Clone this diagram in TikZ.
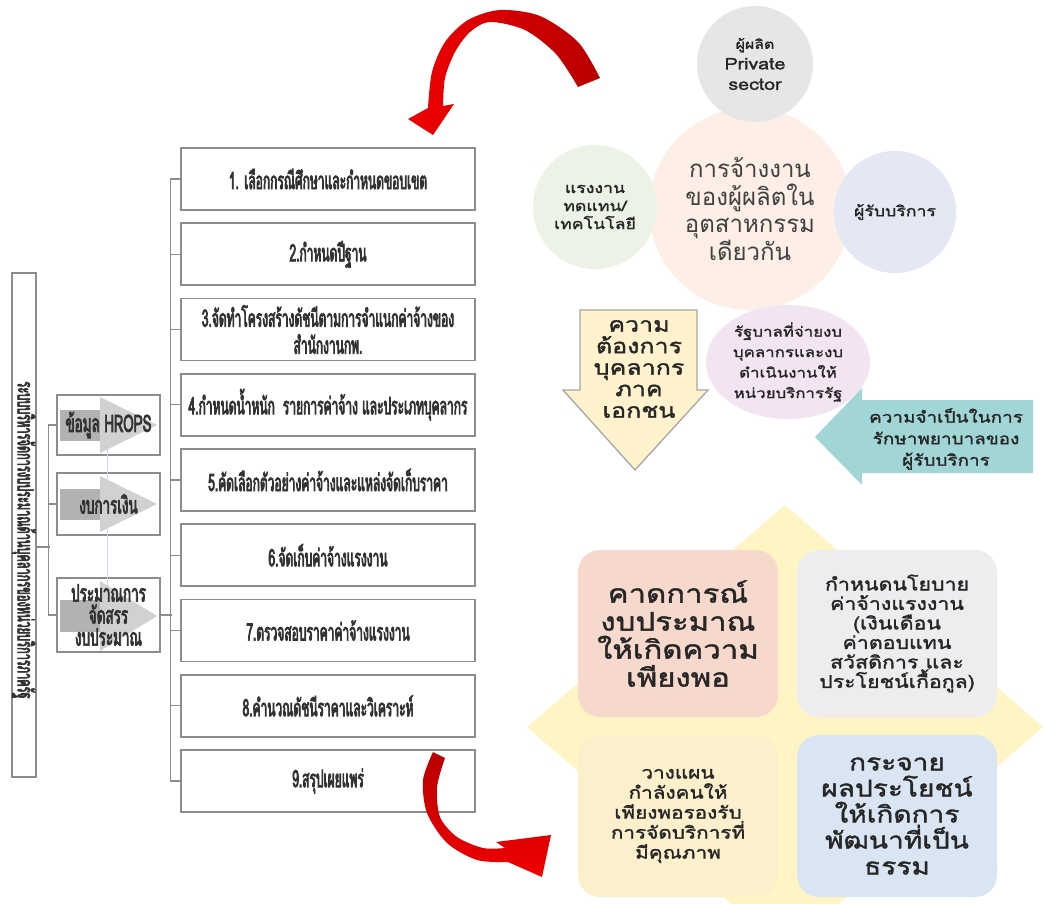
\documentclass[tikz,border=0pt]{standalone}
\usepackage{fontspec}
\setmainfont[Script=Thai]{Loma}
\newfontfamily\thaiR[Script=Thai]{Loma}
\newfontfamily\thaiW[Script=Thai,FakeStretch=1.22,FakeBold=1.6]{Loma}
\newfontfamily\thaiC[Script=Thai,FakeStretch=0.5,FakeBold=3]{Loma}
\newfontfamily\thaiD[Script=Thai,FakeStretch=0.56,FakeBold=3]{Loma}
\usetikzlibrary{shapes.geometric,calc}
\definecolor{txt}{HTML}{333333}
\definecolor{cCenter}{HTML}{FDEFE6}
\definecolor{cTop}{HTML}{E6E6E6}
\definecolor{cLeft}{HTML}{EDF2E6}
\definecolor{cRight}{HTML}{E4E8F4}
\definecolor{cBottom}{HTML}{F2E4F1}
\definecolor{cDown}{HTML}{FFF2CC}
\definecolor{cTeal}{HTML}{A2D5D5}
\definecolor{cDiamond}{HTML}{FFF5C4}
\definecolor{cTL}{HTML}{F6D9CC}
\definecolor{cTR}{HTML}{EDEDEF}
\definecolor{cBL}{HTML}{FCEFCB}
\definecolor{cBR}{HTML}{D9E5F2}
\definecolor{redA}{HTML}{F00000}
\definecolor{redB}{HTML}{B80000}
\begin{document}
\begin{tikzpicture}[x=1pt,y=-1pt,
  conn/.style={draw=black!45,line width=1.3pt},
  stepbox/.style={draw=black!45,line width=1.6pt,fill=white,minimum width=294pt,minimum height=62pt,inner sep=1pt,align=center,text=txt,font=\thaiC\fontsize{24}{27}\selectfont},
  hbox/.style={draw=black!45,line width=1.5pt,fill=white,minimum width=103pt},
  htext/.style={align=center,text=txt,font=\thaiD\fontsize{24}{22}\selectfont},
  gbody/.style={fill=black!30},
  ghead/.style={fill=black!18},
  bubble/.style={circle,inner sep=0pt,align=center,text=black!85},
  quad/.style={rounded corners=22pt,minimum width=200pt,inner sep=2pt,align=center,text=black!85},
]
\useasboundingbox (0,0) rectangle (1043,903);
\clip (0,0) rectangle (1043,903);
\fill[white] (0,0) rectangle (1043,903);

% ---------- left tall box ----------
\node[draw=black!45,line width=2pt,minimum width=24pt,minimum height=504pt,inner sep=0pt] (tall) at (24,525) {};
\node[rotate=-90,text=txt,font=\thaiC\fontsize{22}{22}\selectfont] (talltxt) at (24,540) {ระบบบริหารจัดการงบประมาณด้านบุคลากรของหน่วยบริการภาครัฐ};

% ---------- small input boxes ----------
\node[hbox,minimum height=60pt] (hb1) at (108.5,425) {};
\node[hbox,minimum height=62pt] (hb2) at (108.5,504) {};
\node[hbox,minimum height=74pt] (hb3) at (108.5,615) {};
\draw[blue!18,line width=1pt] (107,440) -- (107,600);
\fill[gbody] (60,410) rectangle (100,441);
\fill[ghead] (100,397) -- (157,425) -- (100,453) -- cycle;
\fill[gbody] (60,489) rectangle (100,520);
\fill[ghead] (100,476) -- (157,504) -- (100,532) -- cycle;
\fill[gbody] (60,600) rectangle (100,632);
\fill[ghead] (100,581) -- (157,616) -- (100,651) -- cycle;
\node[htext] (hb1t) at (hb1.center) {ข้อมูล HROPS};
\node[htext] (hb2t) at (hb2.center) {งบการเงิน};
\node[htext] (hb3t) at (hb3.center) {ประมาณการ\\จัดสรร\\งบประมาณ};

% ---------- step boxes ----------
\node[stepbox] (s1) at (328,179) {1. เลือกกรณีศึกษาและกำหนดขอบเขต};
\node[stepbox] (s2) at (328,254.25) {2.กำหนดปีฐาน};
\node[stepbox] (s3) at (328,329.5) {3.จัดทำโครงสร้างดัชนีตามการจำแนกค่าจ้างของ\\สำนักงานกพ.};
\node[stepbox] (s4) at (328,404.75) {4.กำหนดน้ำหนัก\ \ รายการค่าจ้าง และประเภทบุคลากร};
\node[stepbox] (s5) at (328,480) {5.คัดเลือกตัวอย่างค่าจ้างและแหล่งจัดเก็บราคา};
\node[stepbox] (s6) at (328,555.25) {6.จัดเก็บค่าจ้างแรงงาน};
\node[stepbox] (s7) at (328,630.5) {7.ตรวจสอบราคาค่าจ้างแรงงาน};
\node[stepbox] (s8) at (328,705.75) {8.คำนวณดัชนีราคาและวิเคราะห์};
\node[stepbox] (s9) at (328,781) {9.สรุปเผยแพร่};

% ---------- connectors ----------
\draw[conn] ($(tall.east)+(0,22)$) -- ++(13,0);
\draw[conn] (hb1.west) -- ++(-8,0) |- (hb3.west);
\draw[conn] (hb2.west) -- ++(-8,0);
\draw[conn] (hb3.east) -- ++(11,0);
\draw[conn] (s1.west) -- ++(-10,0) |- (s9.west);
\foreach \i in {2,...,8} \draw[conn] (s\i.west) -- ++(-10,0);

% ---------- top-right bubbles ----------
\node[bubble,fill=cCenter,minimum size=202pt,text=black!75,font=\thaiR\fontsize{24}{27.5}\selectfont] (center) at (750,209) {การจ้างงาน\\ของผู้ผลิตใน\\อุตสาหกรรม\\เดียวกัน};
\node[bubble,fill=cTop,minimum size=116pt,font=\thaiW\fontsize{16}{20.5}\selectfont] (ptop) at (755,64) {{\fontsize{13}{14}\selectfont ผู้ผลิต}\\Private\\sector};
\node[bubble,fill=cLeft,minimum size=124pt,font=\thaiW\fontsize{14.5}{18}\selectfont] (pleft) at (595,207) {แรงงาน\\ทดแทน/\\เทคโนโลยี};
\node[bubble,fill=cRight,minimum size=122pt,font=\thaiW\fontsize{14.5}{18}\selectfont] (pright) at (895,212) {ผู้รับบริการ};
\node[ellipse,fill=cBottom,minimum width=164pt,minimum height=114pt,inner sep=0pt,align=center,text=black!85,font=\thaiW\fontsize{13.8}{20.5}\selectfont] (pbottom) at (788,362) {รัฐบาลที่จ่ายงบ\\บุคลากรและงบ\\ดำเนินงานให้\\หน่วยบริการรัฐ};

% down arrow
\draw[fill=cDown,draw=black!35,line width=1.3pt,line join=miter] (580,310) -- (697,310) -- (697,390) -- (708,390) -- (635,470) -- (563,390) -- (580,390) -- cycle;
\node[align=center,text=black!85,font=\thaiW\fontsize{20.5}{21.5}\selectfont] (downtxt) at (639,369) {ความ\\ต้องการ\\บุคลากร\\ภาค\\เอกชน};

% teal arrow
\fill[cTeal] (1033,400) -- (862,400) -- (862,388) -- (815,437) -- (862,485) -- (862,473) -- (1033,473) -- cycle;
\node[align=center,text=black!85,font=\thaiW\fontsize{15.5}{21.5}\selectfont] (tealtxt) at (946,439) {ความจำเป็นในการ\\รักษาพยาบาลของ\\ผู้รับบริการ};

% ---------- bottom-right quad ----------
\fill[cDiamond] (785,505) -- (1043,727) -- (785,950) -- (527,727) -- cycle;
\node[quad,fill=cTL,minimum height=167pt,font=\thaiW\fontsize{25.5}{28}\selectfont] (qtl) at (678,633.5) {คาดการณ์\\งบประมาณ\\ให้เกิดความ\\เพียงพอ};
\node[quad,fill=cTR,minimum height=167pt,font=\thaiW\fontsize{17.5}{19.5}\selectfont] (qtr) at (897,633.5) {กำหนดนโยบาย\\ค่าจ้างแรงงาน\\(เงินเดือน\\ค่าตอบแทน\\สวัสดิการ และ\\ประโยชน์เกื้อกูล)};
\node[quad,fill=cBL,minimum height=162pt,font=\thaiW\fontsize{17}{20}\selectfont] (qbl) at (678,816) {วางแผน\\กำลังคนให้\\เพียงพอรองรับ\\การจัดบริการที่\\มีคุณภาพ};
\node[quad,fill=cBR,minimum height=162pt,font=\thaiW\fontsize{23}{26}\selectfont] (qbr) at (897,816) {กระจาย\\ผลประโยชน์\\ให้เกิดการ\\พัฒนาที่เป็น\\ธรรม};

% ---------- red curved arrows ----------
\shade[left color=redA,right color=redB]
  plot[smooth] coordinates {(600,78) (578,42) (540,16) (500,10) (468,20) (445,42) (432,72) (428,108)}
  -- (408,119) -- (433,135) -- (454,104) -- (443,106)
  -- plot[smooth] coordinates {(443,106) (445,78) (455,52) (470,32) (490,22) (525,30) (556,54) (578,87)}
  -- cycle;
\shade[top color=redB,bottom color=redA]
  plot[smooth] coordinates {(433,752) (423,780) (427,813) (447,843) (477,860) (508,862)}
  -- (542,877) -- (551,835) -- (496,842) -- (505,848)
  -- plot[smooth] coordinates {(505,848) (483,848) (457,837) (440,817) (437,787) (445,758)}
  -- cycle;
\end{tikzpicture}
\end{document}
